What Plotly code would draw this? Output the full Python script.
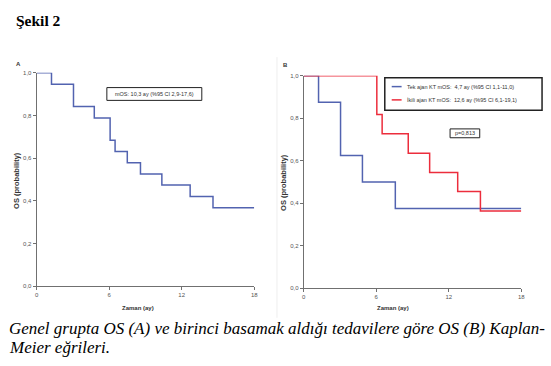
import plotly.graph_objects as go

W, H = 551, 366

# ---- data ----
a_time = [0, 1.23, 3.05, 4.77, 6.08, 6.49, 7.5, 8.59, 10.36, 12.7, 14.59, 18]
a_surv = [1.0, 0.947, 0.842, 0.789, 0.684, 0.632, 0.579, 0.526, 0.474, 0.421, 0.368, 0.368]

tek_time = [0, 1.23, 3.05, 4.86, 7.58, 18]
tek_surv = [1.0, 0.875, 0.625, 0.5, 0.375, 0.375]

ikili_time = [0, 6.05, 6.49, 8.65, 10.42, 12.74, 14.62, 18]
ikili_surv = [1.0, 0.818, 0.727, 0.636, 0.545, 0.455, 0.364, 0.364]

x_ticks = [0, 6, 12, 18]
x_tick_labels = ["0", "6", "12", "18"]
y_ticks = [0, 0.2, 0.4, 0.6, 0.8, 1.0]
y_tick_labels = ["0,0", "0,2", "0,4", "0,6", "0,8", "1,0"]

series_names = ["Tek ajan KT", "İkili ajan KT"]
series_labels = ["Tek ajan KT mOS:  4,7 ay (%95 CI 1,1-11,0)",
                 "İkili ajan KT mOS:  12,6 ay (%95 CI 6,1-19,1)"]
a_label = "mOS: 10,3 ay (%95 CI 2,9-17,6)"
p_label = "p=0,813"

BLUE = "#5263b0"
RED = "#ec2d3c"
AXC = "#707070"


def px(x):
    return x / W


def py(y):
    return 1 - y / H


fig = go.Figure()
fig.add_trace(go.Scatter(x=a_time, y=a_surv, mode="lines", line=dict(color=BLUE, width=1.5, shape="hv"),
                         xaxis="x", yaxis="y", cliponaxis=False, showlegend=False))
fig.add_trace(go.Scatter(x=tek_time, y=tek_surv, mode="lines", line=dict(color=BLUE, width=1.5, shape="hv"),
                         name=series_names[0], xaxis="x2", yaxis="y2", cliponaxis=False, showlegend=False))
fig.add_trace(go.Scatter(x=ikili_time, y=ikili_surv, mode="lines", line=dict(color=RED, width=1.5, shape="hv"),
                         name=series_names[1], xaxis="x2", yaxis="y2", cliponaxis=False, showlegend=False))

tickfont = dict(family="Liberation Sans, Arial", size=6, color="#555555")


def xax(domain, anchor):
    return dict(domain=domain, anchor=anchor, range=[0, 18], tickvals=x_ticks, ticktext=x_tick_labels,
                showgrid=False, zeroline=False, showline=True, linecolor=AXC, linewidth=1,
                ticks="outside", ticklen=3, tickcolor=AXC, tickfont=tickfont, fixedrange=True)


def yax(domain, anchor):
    return dict(domain=domain, anchor=anchor, range=[0, 1], tickvals=y_ticks, ticktext=y_tick_labels,
                showgrid=False, zeroline=False, showline=True, linecolor=AXC, linewidth=1,
                ticks="outside", ticklen=3, tickcolor=AXC, tickfont=tickfont, fixedrange=True)


fig.update_layout(
    width=W, height=H, margin=dict(l=0, r=0, t=0, b=0),
    paper_bgcolor="white", plot_bgcolor="white",
    xaxis=xax([px(35), px(255)], "y"),
    yaxis=yax([py(288), py(71)], "x"),
    xaxis2=xax([px(305), px(525)], "y2"),
    yaxis2=yax([py(290), py(74)], "x2"),
)

ann = []
serif = "Liberation Serif, Times New Roman, serif"
sans = "Liberation Sans, Arial, sans-serif"
ann.append(dict(text="<b>Şekil 2</b>", x=px(12), y=py(18), xanchor="left", yanchor="middle",
                font=dict(family=serif, size=15.5, color="black")))
ann.append(dict(text="<i>Genel grupta OS (A) ve birinci basamak aldığı tedavilere göre OS (B) Kaplan-</i>",
                x=px(5), y=py(331), xanchor="left", yanchor="middle",
                font=dict(family=serif, size=17, color="black")))
ann.append(dict(text="<i>Meier eğrileri.</i>", x=px(5), y=py(350), xanchor="left", yanchor="middle",
                font=dict(family=serif, size=17, color="black")))
# panel letters
ann.append(dict(text="<b>A</b>", x=px(17), y=py(62), xanchor="center", yanchor="middle",
                font=dict(family=sans, size=6, color="#333")))
ann.append(dict(text="<b>B</b>", x=px(287), y=py(63), xanchor="center", yanchor="middle",
                font=dict(family=sans, size=6, color="#333")))
# axis titles
for xc, yc in [(14, 180), (284, 182)]:
    ann.append(dict(text="<b>OS (probability)</b>", x=px(xc), y=py(yc), textangle=-90,
                    xanchor="center", yanchor="middle", font=dict(family=sans, size=7.5, color="#333")))
for xc in [138, 395]:
    ann.append(dict(text="<b>Zaman (ay)</b>", x=px(xc), y=py(310), xanchor="center", yanchor="middle",
                    font=dict(family=sans, size=6, color="#333")))
# boxed labels
ann.append(dict(text=a_label, x=px(154), y=py(92.5), xanchor="center", yanchor="middle",
                font=dict(family=sans, size=5.5, color="#333")))
ann.append(dict(text=p_label, x=px(468), y=py(132), xanchor="center", yanchor="middle",
                font=dict(family=sans, size=5.5, color="#333")))
for lbl, yc in zip(series_labels, [85, 98.5]):
    ann.append(dict(text=lbl, x=px(407), y=py(yc), xanchor="left", yanchor="middle",
                    font=dict(family=sans, size=5.5, color="#333")))
for a in ann:
    a.update(xref="paper", yref="paper", showarrow=False)
fig.update_layout(annotations=ann)

shapes = []


def rect(x0, y0, x1, y1, w=1):
    return dict(type="rect", xref="paper", yref="paper", x0=px(x0), x1=px(x1), y0=py(y1), y1=py(y0),
                line=dict(color="#222", width=w), fillcolor="rgba(0,0,0,0)")


shapes.append(rect(106, 86, 202, 99))
shapes.append(rect(387, 76, 546, 109, 1.5))
shapes.append(rect(453, 128, 483, 137))
for col, yc in [(BLUE, 85), (RED, 98.5)]:
    shapes.append(dict(type="line", xref="paper", yref="paper", x0=px(394), x1=px(404), y0=py(yc), y1=py(yc),
                       line=dict(color=col, width=1.5)))
# faint panel border on B
shapes.append(dict(type="line", xref="paper", yref="paper", x0=px(278), x1=px(278), y0=py(55), y1=py(320),
                   line=dict(color="#eeeeee", width=1)))
fig.update_layout(shapes=shapes)

fig.write_html("out.html", config={"displayModeBar": False},
               post_script="document.body.style.margin='0';document.body.style.overflow='hidden';")
